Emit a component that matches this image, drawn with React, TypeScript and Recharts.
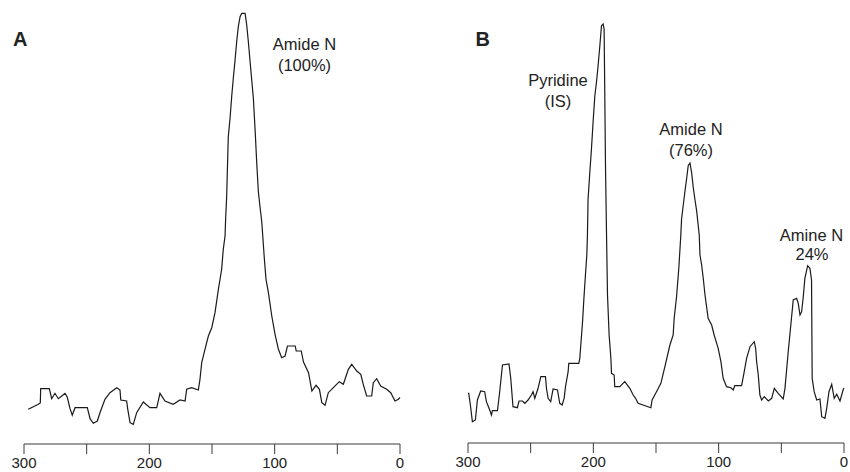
import React from 'react';
import { LineChart, Line, XAxis, YAxis } from 'recharts';

// Panel A: chemical shift (ppm) and signal intensity
const ppmA = [
  296.6, 288.6, 287.0, 286.7, 279.8, 277.9, 275.3, 272.6, 269.9, 267.3, 265.5, 263.3, 261.5, 259.3,
  249.5, 247.3, 244.7, 241.5, 239.4, 235.4, 231.4, 226.0, 223.4, 222.8, 218.1, 217.3, 215.4, 212.8,
  210.1, 204.8, 199.5, 194.1, 191.5, 187.5, 180.9, 175.5, 171.5, 170.2, 166.2, 160.9, 159.6, 158.2,
  155.6, 152.9, 150.2, 147.6, 144.9, 142.3, 141.0, 139.6, 139.1, 138.3, 137.0, 135.6, 134.3, 133.0,
  131.6, 130.3, 129.0, 127.6, 126.3, 123.6, 122.3, 121.0, 119.6, 118.3, 117.0, 115.6, 114.3, 113.0,
  111.7, 110.3, 109.5, 108.2, 106.9, 105.0, 102.3, 99.7, 97.0, 94.4, 91.7, 89.8, 83.6, 82.8,
  78.8, 77.0, 73.0, 70.3, 67.0, 64.3, 62.4, 59.8, 57.2, 53.2, 48.4, 45.2, 41.2, 38.5,
  34.5, 31.3, 29.3, 26.6, 22.6, 21.3, 18.6, 15.4, 10.6, 7.4, 4.0, 1.3, 0,
];
const intensityA = [
  34.7, 39.7, 41, 55.3, 55.3, 45.3, 50.7, 45.3, 48, 50.7, 47, 35.3, 28.7, 36.3,
  36.3, 25.3, 20.7, 23, 31.3, 44.7, 51.3, 56.3, 54, 44, 43, 35.3, 21.3, 19.7,
  31.3, 42, 36.3, 36.3, 50.7, 43, 39.7, 44, 43, 54.7, 56.3, 54, 64.7, 81.3,
  94.7, 108, 116.3, 131.3, 154.7, 174.7, 194.7, 208, 225.7, 247.3, 307.3, 325.7, 347.3, 365.7,
  384, 402.3, 417.3, 427.3, 430.7, 430.7, 419, 402.3, 382.3, 364, 345.7, 314, 280.7, 252.3,
  237.3, 222.3, 208, 184.7, 164.7, 151.3, 128, 109.7, 94.7, 86.3, 88, 98, 98, 93,
  93, 82, 71.3, 53, 58.7, 54.7, 41.3, 38.7, 51.3, 56.3, 62.3, 59.7, 74.7, 79.7,
  73, 69.7, 59.7, 48, 48, 61.3, 65.3, 58, 54.7, 51.3, 43, 44.7, 46.5,
];

// Panel B: chemical shift (ppm) and signal intensity
const ppmB = [
  300, 299.4, 298.1, 296.5, 294.1, 292.5, 289.9, 286.7, 285.3, 282.7, 281.3, 280.5, 276.5, 274.7,
  272.5, 267.3, 265.9, 264.1, 260.6, 259.3, 256.6, 254.7, 252.1, 249.4, 248.1, 246.7, 244.1, 241.9,
  238.2, 237.4, 236.1, 234.0, 232.1, 228.6, 226.8, 224.9, 223.3, 222.2, 220.1, 219.6, 211.6, 210.8,
  210.2, 209.4, 208.6, 207.6, 206.3, 205.2, 204.7, 204.2, 202.8, 201.5, 200.2, 198.8, 197.5, 196.2,
  194.8, 193.5, 192.2, 191.4, 190.8, 190.3, 189.5, 188.7, 187.4, 186.0, 185.5, 183.4, 182.9, 178.9,
  174.9, 170.9, 168.2, 166.3, 164.3, 154.1, 153.1, 149.6, 146.1, 142.9, 138.9, 136.3, 135.5, 133.6,
  131.8, 130.2, 129.6, 128.3, 127.0, 125.6, 124.3, 122.9, 121.6, 120.3, 119.0, 117.6, 116.3, 115.5,
  114.9, 113.6, 112.3, 110.9, 108.4, 105.6, 103.6, 100.4, 98.2, 96.4, 93.7, 90.3, 88.4, 87.1,
  81.7, 79.6, 77.7, 75.0, 71.6, 70.5, 69.7, 68.4, 67.1, 65.7, 63.6, 60.4, 57.7, 55.6,
  52.5, 48.5, 47.1, 44.5, 40.5, 37.8, 36.5, 35.1, 33.8, 32.5, 31.2, 29.0, 27.2, 25.9,
  25.4, 23.8, 21.8, 19.2, 17.8, 15.2, 13.8, 12.0, 9.8, 7.8, 5.8, 3.2, 0.5, 0,
];
const intensityB = [
  49.7, 49.7, 38, 21.3, 23, 43, 52, 51.3, 41.3, 33, 28, 32.3, 32.3, 51.3,
  78, 79, 64.7, 36.3, 35.3, 42, 42, 39.7, 43, 48, 51.3, 44.7, 54.7, 66.3,
  66.3, 54.7, 44.7, 41.3, 54, 53, 39.7, 38, 44.7, 56.3, 71.3, 79.7, 79.7, 84.7,
  94.7, 108, 121.3, 143, 168, 188, 208, 244, 270.7, 294, 320.7, 347.3, 360.7, 377.3,
  397.3, 417.3, 419, 414, 340.7, 277.3, 210.7, 148, 108, 84.7, 69.7, 68, 56.3, 56.3,
  61.3, 54.7, 48, 44.7, 39.7, 35.3, 43, 51.3, 59.7, 76.3, 98, 108, 124.7, 146.3,
  174.7, 208, 224, 237.3, 250.7, 264, 277.3, 280, 270.7, 255.7, 244, 232.3, 217.3, 208,
  188, 178, 164.7, 148, 124.7, 118, 108, 94.7, 81.3, 64.7, 56.3, 55.3, 53, 57.3,
  57.3, 71.3, 84.7, 96.3, 101.3, 94.7, 81.3, 68, 48, 43, 46.3, 42, 44.7, 54.7,
  49.7, 44, 54.7, 91.3, 143, 144.7, 139.7, 128, 131.3, 146.3, 164.7, 177.3, 174.7, 163,
  64.7, 51.3, 43, 44, 26.3, 24.7, 34.7, 51.3, 58.7, 44.7, 48.7, 42, 54, 55,
];

const xTicks = [300, 250, 200, 150, 100, 50, 0];
const labelledTicks = [300, 200, 100, 0];

const dataA = ppmA.map((p, i) => ({ ppm: p, v: intensityA[i] }));
const dataB = ppmB.map((p, i) => ({ ppm: p, v: intensityB[i] }));

const FONT = '"Liberation Sans", Arial, Helvetica, sans-serif';
const LINE = '#1a1a1a';
const AXIS = '#3a3a3a';
const TEXT = '#222';

const fmt = (t: number) => (labelledTicks.includes(t) ? String(t) : '');

function Spectrum({ data, width, height, margin, axisHeight }: any) {
  return (
    <LineChart width={width} height={height} data={data} margin={margin}>
      <XAxis
        dataKey="ppm"
        type="number"
        domain={[0, 300]}
        reversed
        ticks={xTicks}
        interval={0}
        tickFormatter={fmt}
        tickSize={10}
        tickMargin={3}
        height={axisHeight}
        stroke={AXIS}
        tick={{ fill: TEXT, fontSize: 15, fontFamily: FONT }}
      />
      <YAxis hide domain={[0, 434]} />
      <Line
        type="linear"
        dataKey="v"
        stroke={LINE}
        strokeWidth={1.2}
        dot={false}
        activeDot={false}
        isAnimationActive={false}
      />
    </LineChart>
  );
}

const textStyle = { fontFamily: FONT, fill: TEXT, fontSize: 16.5 } as const;

export default function App() {
  return (
    <div style={{ position: 'absolute', left: 0, top: 0, width: 850, height: 472, background: '#fff' }}>
      <div style={{ position: 'absolute', left: 0, top: 0 }}>
        <Spectrum data={dataA} width={425} height={472} axisHeight={28} margin={{ top: 10, right: 25, bottom: 0, left: 24 }} />
      </div>
      <div style={{ position: 'absolute', left: 425, top: 0 }}>
        <Spectrum data={dataB} width={425} height={472} axisHeight={29} margin={{ top: 9, right: 6, bottom: 0, left: 43 }} />
      </div>
      <svg width={850} height={472} style={{ position: 'absolute', left: 0, top: 0, pointerEvents: 'none' }}>
        <text x={13} y={45.7} style={{ fontFamily: FONT, fill: TEXT, fontSize: 20, fontWeight: 700 }}>A</text>
        <text x={304.5} y={49.5} textAnchor="middle" style={textStyle}>Amide N</text>
        <text x={304.5} y={70.5} textAnchor="middle" style={textStyle}>(100%)</text>

        <text x={475.5} y={45.7} style={{ fontFamily: FONT, fill: TEXT, fontSize: 20, fontWeight: 700 }}>B</text>
        <text x={558} y={86} textAnchor="middle" style={textStyle}>Pyridine</text>
        <text x={558} y={107} textAnchor="middle" style={textStyle}>(IS)</text>
        <text x={691} y={135} textAnchor="middle" style={textStyle}>Amide N</text>
        <text x={691} y={156} textAnchor="middle" style={textStyle}>(76%)</text>
        <text x={811.5} y={241} textAnchor="middle" style={textStyle}>Amine N</text>
        <text x={812} y={260} textAnchor="middle" style={textStyle}>24%</text>
      </svg>
    </div>
  );
}
